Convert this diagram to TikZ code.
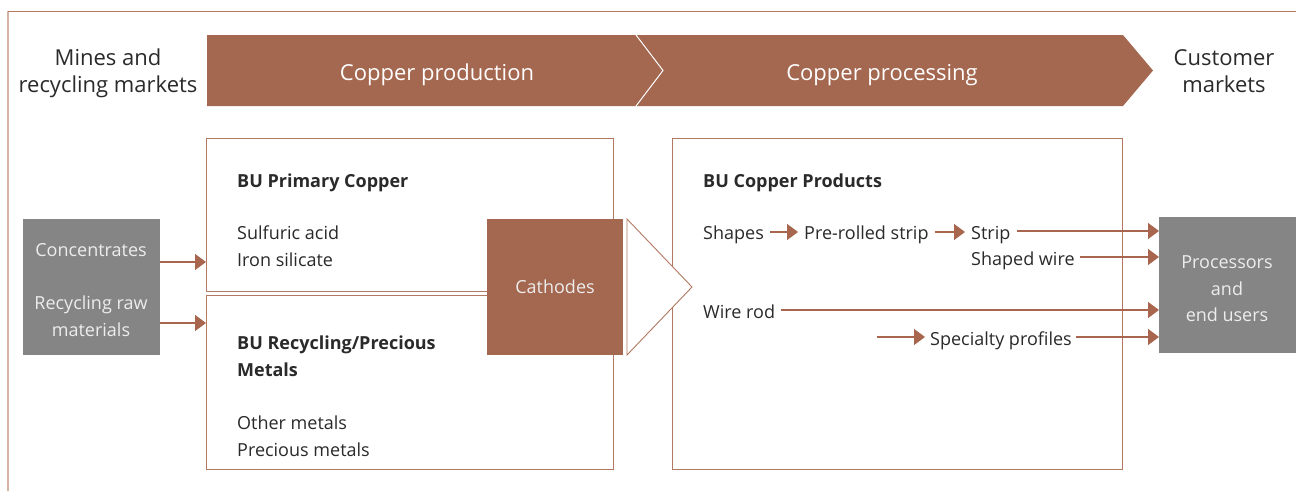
\documentclass[tikz,border=0pt]{standalone}
\usepackage{fontspec}
\setmainfont{Open Sans}
\usetikzlibrary{arrows.meta,calc}
\definecolor{cu}{HTML}{A4674F}
\definecolor{cuedge}{HTML}{B27862}
\definecolor{cuarrow}{HTML}{A8664E}
\definecolor{culight}{HTML}{D6B3A6}
\definecolor{gbox}{HTML}{858585}
\definecolor{txt}{HTML}{2A2A2A}
\definecolor{gtxt}{HTML}{EDEDED}
\begin{document}
\begin{tikzpicture}[x=1pt,y=-1pt,
  box/.style={draw=cuedge,line width=0.9pt,fill=white,minimum width=#1,anchor=north west,inner sep=0pt},
  graybox/.style={fill=gbox,inner sep=0pt,minimum width=137pt,minimum height=136pt},
  body/.style={font=\fontsize{18}{27}\selectfont,text=txt,inner sep=0pt,anchor=base west},
  bold/.style={font=\fontsize{18}{27}\selectfont\bfseries,text=txt,inner sep=0pt,anchor=base west},
  flow/.style={font=\fontsize{18}{27}\selectfont,text=txt,inner xsep=0pt,inner ysep=0pt,text height=14pt,text depth=0pt,anchor=west},
  head/.style={font=\fontsize{22}{27}\selectfont,text=txt,align=center,inner sep=0pt},
  band/.style={font=\fontsize{22}{27}\selectfont,text=white,inner sep=0pt},
  gt/.style={font=\fontsize{18}{26.5}\selectfont,text=gtxt,align=center,inner sep=0pt},
  arr/.style={draw=cuarrow,line width=1.2pt,-{Triangle[length=11pt,width=16pt]}},
  lin/.style={draw=cuarrow,line width=1.2pt}
]
\useasboundingbox (0,0) rectangle (1296,491);
% frame
\draw[culight,line width=1.2pt] (8,491) -- (8,11);
\draw[cuedge,line width=1pt] (8,11) -- (1296,11);

% banner
\fill[cu] (207,35) -- (1123,35) -- (1153,70.5) -- (1123,106) -- (207,106) -- cycle;
\draw[white,line width=1pt] (636,35) -- (663,70.5) -- (636,106);
\node[band] (prod) at (437,75) {Copper production};
\node[band] (proc) at (882,75) {Copper processing};
\node[head] (mines) at (108,73) {Mines and\\recycling markets};
\node[head] (cust) at (1224,71.5) {Customer\\markets};

% boxes
\node[box=407pt,minimum height=153pt] (prim) at (206,138) {};
\node[box=407pt,minimum height=174pt] (recy) at (206,295) {};
\node[box=450pt,minimum height=331pt] (prods) at (672,138) {};

% cathodes and triangle
\node[fill=cu,inner sep=0pt,minimum width=136pt,minimum height=136pt,
      font=\fontsize{18}{27}\selectfont,text=gtxt] (cath) at (555,287) {Cathodes};
\draw[cuedge,line width=0.9pt,fill=white] (627,219) -- (692,287) -- (627,355) -- cycle;

% gray boxes
\node[graybox] (src) at (91.5,287) {};
\node[gt] (conc) at (91,250) {Concentrates};
\node[gt] (rraw) at (91,316) {Recycling raw\\materials};
\node[graybox,anchor=north west] (users) at (1159,217) {};
\node[gt] (usertxt) at (1227,289) {Processors\\and\\end users};

% texts in BU boxes
\node[bold] (t1) at (237,187) {BU Primary Copper};
\node[body] (t2) at (237,239) {Sulfuric acid};
\node[body] (t3) at (237,266) {Iron silicate};
\node[bold] (t4) at (237,349) {BU Recycling/Precious};
\node[bold] (t5) at (237,376) {Metals};
\node[body] (t6) at (237,429) {Other metals};
\node[body] (t7) at (237,456) {Precious metals};
\node[bold] (t8) at (703,187) {BU Copper Products};

% flow texts
\node[flow] (shapes) at (703,232) {Shapes};
\node[flow] (pre) at (804,232) {Pre-rolled strip};
\node[flow] (strip) at (971,232) {Strip};
\node[flow] (shaped) at (971,258) {Shaped wire};
\node[flow] (wire) at (703,311) {Wire rod};
\node[flow] (spec) at (930,338) {Specialty profiles};
\coordinate (specin) at (877,337);

% arrows
\draw[arr] (src.east |- 0,262) -- (prim.west |- 0,262);
\draw[arr] (src.east |- 0,323) -- (recy.west |- 0,323);
\draw[arr,shorten <=6pt,shorten >=6pt] (shapes.east) -- (pre.west);
\draw[arr,shorten <=6pt,shorten >=6pt] (pre.east) -- (strip.west);
\draw[arr,shorten <=6pt] ([yshift=1pt]strip.east) -- ([yshift=1pt]strip.east -| users.west);
\draw[arr,shorten <=5pt] ([yshift=1pt]shaped.east) -- ([yshift=1pt]shaped.east -| users.west);
\draw[arr,shorten <=6pt] ([yshift=1pt]wire.east) -- ([yshift=1pt]wire.east -| users.west);
\draw[arr,shorten >=5pt] (specin) -- (specin -| spec.west);
\draw[arr,shorten <=4pt] ([yshift=1pt]spec.east) -- ([yshift=1pt]spec.east -| users.west);
\end{tikzpicture}
\end{document}
